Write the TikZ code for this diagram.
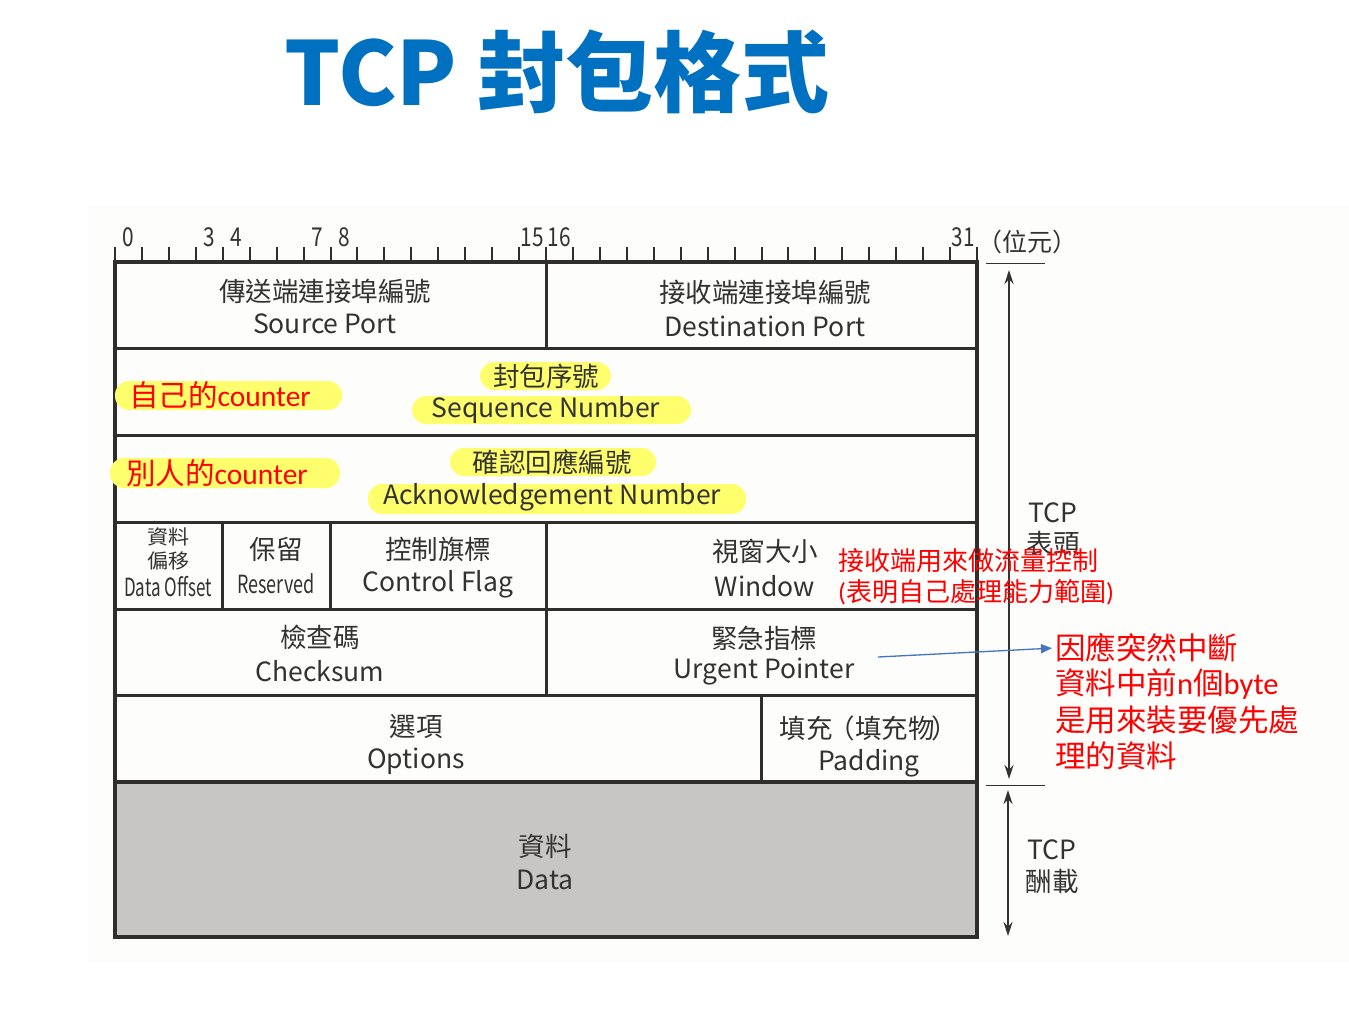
\documentclass[tikz,border=0pt]{standalone}
\usepackage{fontspec}
\setmainfont{Noto Sans CJK TC}
\newfontfamily\notelatin{Carlito}
\usetikzlibrary{arrows.meta}
\definecolor{inkgray}{RGB}{50,50,50}
\definecolor{rulegray}{RGB}{48,46,44}
\definecolor{hilite}{RGB}{255,255,110}
\definecolor{notered}{RGB}{255,0,0}
\definecolor{titleblue}{RGB}{0,112,192}
\definecolor{arrowblue}{RGB}{68,114,196}
\definecolor{datafill}{RGB}{199,198,196}
\definecolor{paper}{RGB}{253,253,252}
\begin{document}
\begin{tikzpicture}[x=1pt,y=-1pt,
  fld/.style={text=inkgray,font=\fontsize{26.5}{30}\selectfont,inner sep=0pt},
  narrow/.style={text=inkgray,font=\fontsize{25}{28}\selectfont,inner sep=0pt},
  bitno/.style={text=inkgray,font=\fontsize{26}{28}\selectfont,inner sep=0pt},
  note/.style={text=notered,font=\fontsize{26}{30}\selectfont,inner sep=0pt,anchor=west},
  cntnote/.style={text=notered,font=\fontsize{29.5}{32}\selectfont,inner sep=0pt,anchor=west},
  bignote/.style={text=notered,font=\fontsize{30.5}{34}\selectfont,inner sep=0pt,anchor=west},
  hlband/.style={fill=hilite,rounded corners=14pt},
  outer/.style={draw=rulegray,line width=4pt},
  inner/.style={draw=rulegray,line width=3pt},
  bittick/.style={draw=rulegray,line width=2pt},
  span/.style={draw=inkgray,line width=1.6pt,{Stealth[length=14pt,width=9pt]}-{Stealth[length=14pt,width=9pt]}},
  thinrule/.style={draw=inkgray,line width=1pt}
]
\useasboundingbox (0,0) rectangle (1349,1019);
\fill[white] (0,0) rectangle (1349,1019);
\fill[paper] (88,205) rectangle (1349,962);

% title
\node[text=titleblue,font=\fontsize{88}{96}\selectfont\bfseries,inner sep=0pt] (title) at (557,72) {TCP 封包格式};

% bit ruler
\foreach \i in {0,...,32}
  \draw[bittick] ({115+26.9375*\i},247) -- ({115+26.9375*\i},262);
\foreach \i in {0,3,4,7,8,15,16,31}
  \node[bitno] (bit\i) at ({115+26.9375*(\i+0.5)},237) {\scalebox{0.8}[1]{\i}};
\node[text=inkgray,font=\fontsize{25}{28}\selectfont,inner sep=0pt] (unit) at (1027,242) {（位元）};

% data area
\fill[datafill] (115,782) rectangle (977,937);

% rows and columns
\draw[inner] (115,348) -- (977,348);
\draw[inner] (115,435) -- (977,435);
\draw[inner] (115,522) -- (977,522);
\draw[inner] (115,609) -- (977,609);
\draw[inner] (115,695) -- (977,695);
\draw[outer] (115,782) -- (977,782);
\draw[inner] (546.5,262) -- (546.5,348);
\draw[inner] (222.75,522) -- (222.75,609);
\draw[inner] (330.5,522) -- (330.5,609);
\draw[inner] (546.5,522) -- (546.5,695);
\draw[inner] (761.5,695) -- (761.5,782);
\draw[outer] (115,262) rectangle (977,937);

% highlights
\path[hlband] (115,381) rectangle (342,410);
\path[hlband] (480,362) rectangle (611,390);
\path[hlband] (412,396) rectangle (691,424);
\path[hlband] (110,458) rectangle (340,488);
\path[hlband] (450,448) rectangle (656,476);
\path[hlband] (368,484) rectangle (746,514);

% row 1
\node[fld] (srcZh) at (325,291) {傳送端連接埠編號};
\node[fld] (srcEn) at (325,324) {Source Port};
\node[fld] (dstZh) at (765,292) {接收端連接埠編號};
\node[fld] (dstEn) at (765,326) {Destination Port};

% row 2
\node[fld] (seqZh) at (546,376) {封包序號};
\node[fld] (seqEn) at (546,410) {Sequence Number};
\node[cntnote] (ownCnt) at (129,395) {自己的{\notelatin counter}};

% row 3
\node[fld] (ackZh) at (552,462) {確認回應編號};
\node[fld] (ackEn) at (552,497) {Acknowledgement Number};
\node[cntnote] (peerCnt) at (126,473) {別人的{\notelatin counter}};

% row 4
\node[text=inkgray,font=\fontsize{21}{22}\selectfont,inner sep=0pt] (offZa) at (168,537) {\scalebox{1}[0.95]{資料}};
\node[text=inkgray,font=\fontsize{21}{22}\selectfont,inner sep=0pt] (offZb) at (168,561) {\scalebox{1}[0.95]{偏移}};
\node[narrow] (offEn) at (168,587) {\scalebox{0.68}[1]{Data Offset}};
\node[fld] (resZh) at (276,549) {保留};
\node[narrow] (resEn) at (276,584) {\scalebox{0.72}[1]{Reserved}};
\node[fld] (flgZh) at (438,549) {控制旗標};
\node[fld] (flgEn) at (438,584) {Control Flag};
\node[fld] (winZh) at (765,551) {視窗大小};
\node[fld] (winEn) at (765,586) {Window};

% row 5
\node[fld] (sumZh) at (320,637) {檢查碼};
\node[fld] (sumEn) at (320,671) {Checksum};
\node[fld] (urgZh) at (764,638) {緊急指標};
\node[fld] (urgEn) at (764,672) {Urgent Pointer};

% row 6
\node[fld] (optZh) at (416,727) {選項};
\node[fld] (optEn) at (416,761) {Options};
\node[fld] (padZh) at (869,728) {填充\hspace{-0.15em}（填充物\hspace{-0.1em}）};
\node[fld] (padEn) at (869,763) {Padding};

% payload
\node[fld] (datZh) at (545,846) {資料};
\node[fld] (datEn) at (545,880) {Data};

% header / payload extents
\draw[thinrule] (986,263) -- (1045,263);
\draw[thinrule] (986,785) -- (1045,785);
\coordinate (hdrTop) at (1009,270);
\coordinate (hdrBot) at (1009,779);
\coordinate (payTop) at (1008,790);
\coordinate (payBot) at (1008,936);
\draw[span] (hdrTop) -- (hdrBot);
\draw[span] (payTop) -- (payBot);
\node[fld] (hdrA) at (1053,513) {TCP};
\node[fld] (hdrB) at (1053,543) {表頭};
\node[fld] (payA) at (1052,850) {TCP};
\node[fld] (payB) at (1052,881) {酬載};

% window note
\node[note] (winA) at (838,561) {接收端用來做流量控制};
\node[note] (winB) at (838,592) {{\notelatin (}表明自己處理能力範圍{\notelatin )}};

% urgent pointer note
\coordinate (urgFrom) at (878,657);
\node[bignote] (urgA) at (1055,648) {因應突然中斷};
\node[bignote] (urgB) at (1055,684) {資料中前{\notelatin n}個{\notelatin byte}};
\node[bignote] (urgC) at (1055,720) {是用來裝要優先處};
\node[bignote] (urgD) at (1055,756) {理的資料};
\draw[arrowblue,line width=1.3pt,-{Triangle[length=11pt,width=9pt]},shorten >=3pt] (urgFrom) -- (urgA.west);
\end{tikzpicture}
\end{document}
